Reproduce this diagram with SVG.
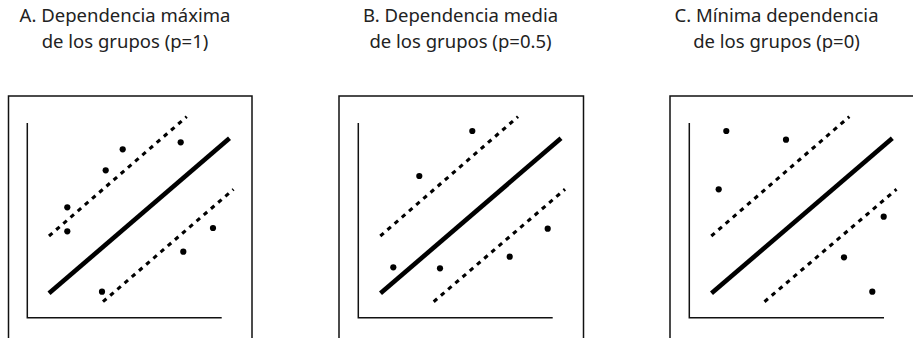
<svg xmlns="http://www.w3.org/2000/svg" width="913" height="338" viewBox="0 0 913 338">
<style>
.title{font-family:"Noto Sans","Liberation Sans",sans-serif;font-size:18.5px;fill:#222;text-anchor:middle}
.frame{fill:none;stroke:#111;stroke-width:1.5}
.axis{fill:none;stroke:#111;stroke-width:1.5}
.fit{stroke:#000;stroke-width:4.6;stroke-linecap:butt}
.band{stroke:#000;stroke-width:3.1;stroke-dasharray:4.5 5;stroke-linecap:butt}
.pt{fill:#000}
</style>
<rect width="913" height="338" fill="#fff"/>
<g id="panelA">
  <text class="title" x="125" y="21.7">A. Dependencia máxima</text>
  <text class="title" x="125" y="48.3">de los grupos (p=1)</text>
  <rect class="frame" x="8.5" y="96" width="243.5" height="260"/>
  <path class="axis" d="M27.3 123V317.7H221.7"/>
  <line class="fit" x1="49" y1="293.3" x2="229.5" y2="138.3"/>
  <line class="band" x1="49" y1="236" x2="186.7" y2="116.7"/>
  <line class="band" x1="103" y1="301.7" x2="233.5" y2="189.3"/>
  <g class="pt">
    <circle cx="122.7" cy="149.3" r="3.1"/>
    <circle cx="105.7" cy="170.3" r="3.1"/>
    <circle cx="180.7" cy="142.3" r="3.1"/>
    <circle cx="67.3" cy="207.3" r="3.1"/>
    <circle cx="67.3" cy="231.3" r="3.1"/>
    <circle cx="213" cy="228" r="3.1"/>
    <circle cx="183.3" cy="251.7" r="3.1"/>
    <circle cx="102" cy="291.7" r="3.1"/>
  </g>
</g>
<g id="panelB">
  <text class="title" x="460.5" y="21.7">B. Dependencia media</text>
  <text class="title" x="460.5" y="48.3">de los grupos (p=0.5)</text>
  <rect class="frame" x="339" y="96" width="244.5" height="260"/>
  <path class="axis" d="M358.3 123V317.7H552.7"/>
  <line class="fit" x1="380.5" y1="293.3" x2="561" y2="138.3"/>
  <line class="band" x1="380.3" y1="236" x2="518" y2="116.7"/>
  <line class="band" x1="433.7" y1="301.7" x2="565" y2="189.3"/>
  <g class="pt">
    <circle cx="472.3" cy="131" r="3.1"/>
    <circle cx="419.3" cy="176" r="3.1"/>
    <circle cx="393.3" cy="267.3" r="3.1"/>
    <circle cx="440" cy="268.3" r="3.1"/>
    <circle cx="509.7" cy="256.7" r="3.1"/>
    <circle cx="547.7" cy="228.7" r="3.1"/>
  </g>
</g>
<g id="panelC">
  <text class="title" x="776.5" y="21.7">C. Mínima dependencia</text>
  <text class="title" x="776.5" y="48.3">de los grupos (p=0)</text>
  <rect class="frame" x="670" y="96" width="245" height="260"/>
  <path class="axis" d="M689.3 123V317.7H884"/>
  <line class="fit" x1="711.5" y1="293.3" x2="892.3" y2="138.3"/>
  <line class="band" x1="711.3" y1="236" x2="849.3" y2="116.7"/>
  <line class="band" x1="764.5" y1="301.7" x2="896.5" y2="189.3"/>
  <g class="pt">
    <circle cx="726.3" cy="131" r="3.1"/>
    <circle cx="786" cy="139.7" r="3.1"/>
    <circle cx="718.7" cy="189.3" r="3.1"/>
    <circle cx="883.7" cy="216.7" r="3.1"/>
    <circle cx="844" cy="257.3" r="3.1"/>
    <circle cx="872.3" cy="291.7" r="3.1"/>
  </g>
</g>
</svg>
